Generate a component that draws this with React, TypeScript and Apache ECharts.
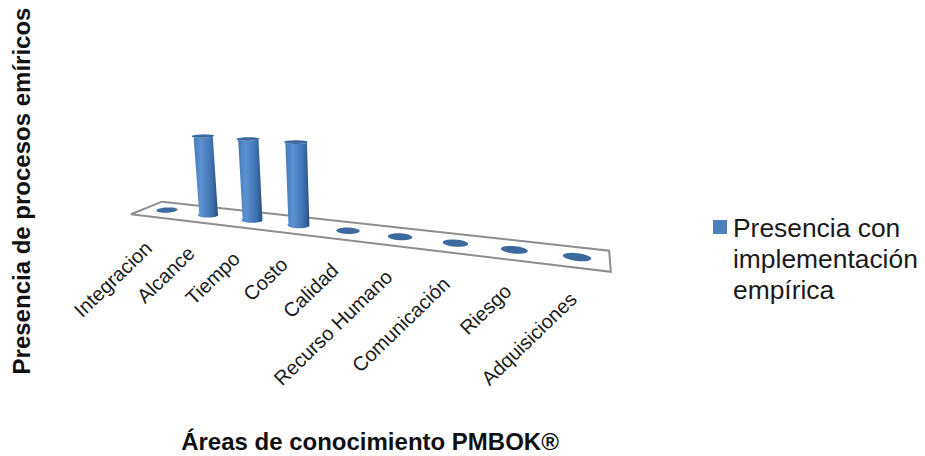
import React, { useEffect, useRef } from "react";
import * as echarts from "echarts";

const categories = [
  "Integracion",
  "Alcance",
  "Tiempo",
  "Costo",
  "Calidad",
  "Recurso Humano",
  "Comunicación",
  "Riesgo",
  "Adquisiciones",
];
const presence = [0, 1, 1, 1, 0, 0, 0, 0, 0];
const legendLines = ["Presencia con", "implementación", "empírica"];
const xTitle = "Áreas de conocimiento PMBOK®";
const yTitle = "Presencia de procesos emíricos";

const FONT = '"Liberation Sans", Arial, sans-serif';

// Perspective camera: category position i, height v and depth z to page pixels.
function project(i: number, v: number, z: number): [number, number] {
  const w = 1 - 0.0262 * i - 0.03 * v + 0.0354 * z;
  return [
    (167 + 36.13 * i - 11.5 * v + 20.9 * z) / w,
    (210 - 0.86 * i - 80.78 * v + 1.0 * z) / w,
  ];
}

const RADIUS_I = 0.22;
const RADIUS_Z = 0.38;
const STEPS = 32;

function circle(i: number, v: number, from = 0, to = Math.PI * 2) {
  const pts: [number, number][] = [];
  for (let k = 0; k <= STEPS; k++) {
    const a = from + ((to - from) * k) / STEPS;
    pts.push(project(i + RADIUS_I * Math.cos(a), v, RADIUS_Z * Math.sin(a)));
  }
  return pts;
}

// Grid pixels are converted back to (i, v) so that the axis scales drive the camera.
function toPlane(api: any, params: any) {
  const cs = params.coordSys;
  const [px, py] = api.coord([api.value(0), api.value(1)]);
  const band = api.size([1, 0])[0];
  return { i: (px - cs.x) / band - 0.5, v: (cs.y + cs.height - py) / cs.height, band };
}

function renderFloor(params: any, api: any) {
  const cs = params.coordSys;
  const band = api.size([1, 0])[0];
  const n = cs.width / band;
  const lo = -0.5;
  const hi = n - 0.5;
  return {
    type: "polygon",
    shape: {
      points: [project(lo, 0, -1), project(lo, 0, 1), project(hi, 0, 1), project(hi, 0, -1)],
    },
    style: { fill: "#ffffff", stroke: "#8e8e8e", lineWidth: 2, lineJoin: "miter" },
  };
}

function renderCylinder(params: any, api: any) {
  const { i, v } = toPlane(api, params);
  const children: any[] = [];
  if (v > 0) {
    const bottom = circle(i, 0, Math.PI, Math.PI * 2);
    const top = circle(i, v, Math.PI, Math.PI * 2).reverse();
    children.push({
      type: "polygon",
      shape: { points: [...bottom, ...top] },
      style: {
        fill: new echarts.graphic.LinearGradient(0, 0, 1, 0, [
          { offset: 0, color: "#3f78ba" },
          { offset: 0.35, color: "#5c91d2" },
          { offset: 0.75, color: "#3f72b0" },
          { offset: 1, color: "#2a4f7e" },
        ]),
      },
    });
  }
  children.push({
    type: "polygon",
    shape: { points: circle(i, v) },
    style: { fill: "#3c6a9f" },
  });
  const [ex, ey] = project(i, 0, -1);
  children.push({
    type: "text",
    x: ex - 3,
    y: ey + 28,
    rotation: (44 * Math.PI) / 180,
    style: {
      text: categories[params.dataIndex],
      align: "right",
      verticalAlign: "middle",
      fill: "#1a1a1a",
      font: `20px ${FONT}`,
    },
  });
  return { type: "group", children };
}

export default function App() {
  const ref = useRef<HTMLDivElement>(null);
  useEffect(() => {
    const chart = echarts.init(ref.current!, undefined, { renderer: "svg" });
    chart.setOption({
      animation: false,
      backgroundColor: "#ffffff",
      grid: { left: 130, width: 480, top: 100, height: 120 },
      xAxis: { type: "category", data: categories, show: false },
      yAxis: { type: "value", min: 0, max: 1, show: false },
      series: [
        {
          type: "custom",
          name: "Plano",
          silent: true,
          z: 1,
          clip: false,
          renderItem: renderFloor,
          data: [[0, 0]],
        },
        {
          type: "custom",
          name: legendLines.join(" "),
          z: 2,
          clip: false,
          renderItem: renderCylinder,
          encode: { x: 0, y: 1 },
          data: categories.map((c, k) => [k, presence[k]]),
        },
      ],
      graphic: [
        { type: "rect", shape: { x: 713, y: 220, width: 14, height: 14 }, style: { fill: "#4f81bd" } },
        {
          type: "text",
          x: 733,
          y: 212.5,
          style: {
            text: legendLines.join("\n"),
            font: `26.4px ${FONT}`,
            lineHeight: 31,
            fill: "#1a1a1a",
          },
        },
        {
          type: "text",
          x: 370,
          y: 441,
          style: {
            text: xTitle,
            font: `bold 24px ${FONT}`,
            align: "center",
            verticalAlign: "middle",
            fill: "#111111",
          },
        },
        {
          type: "text",
          x: 21,
          y: 191,
          rotation: Math.PI / 2,
          style: {
            text: yTitle,
            font: `bold 24px ${FONT}`,
            align: "center",
            verticalAlign: "middle",
            fill: "#111111",
          },
        },
      ],
    });
    return () => chart.dispose();
  }, []);
  return <div ref={ref} style={{ position: "fixed", left: 0, top: 0, width: 925, height: 456 }} />;
}
